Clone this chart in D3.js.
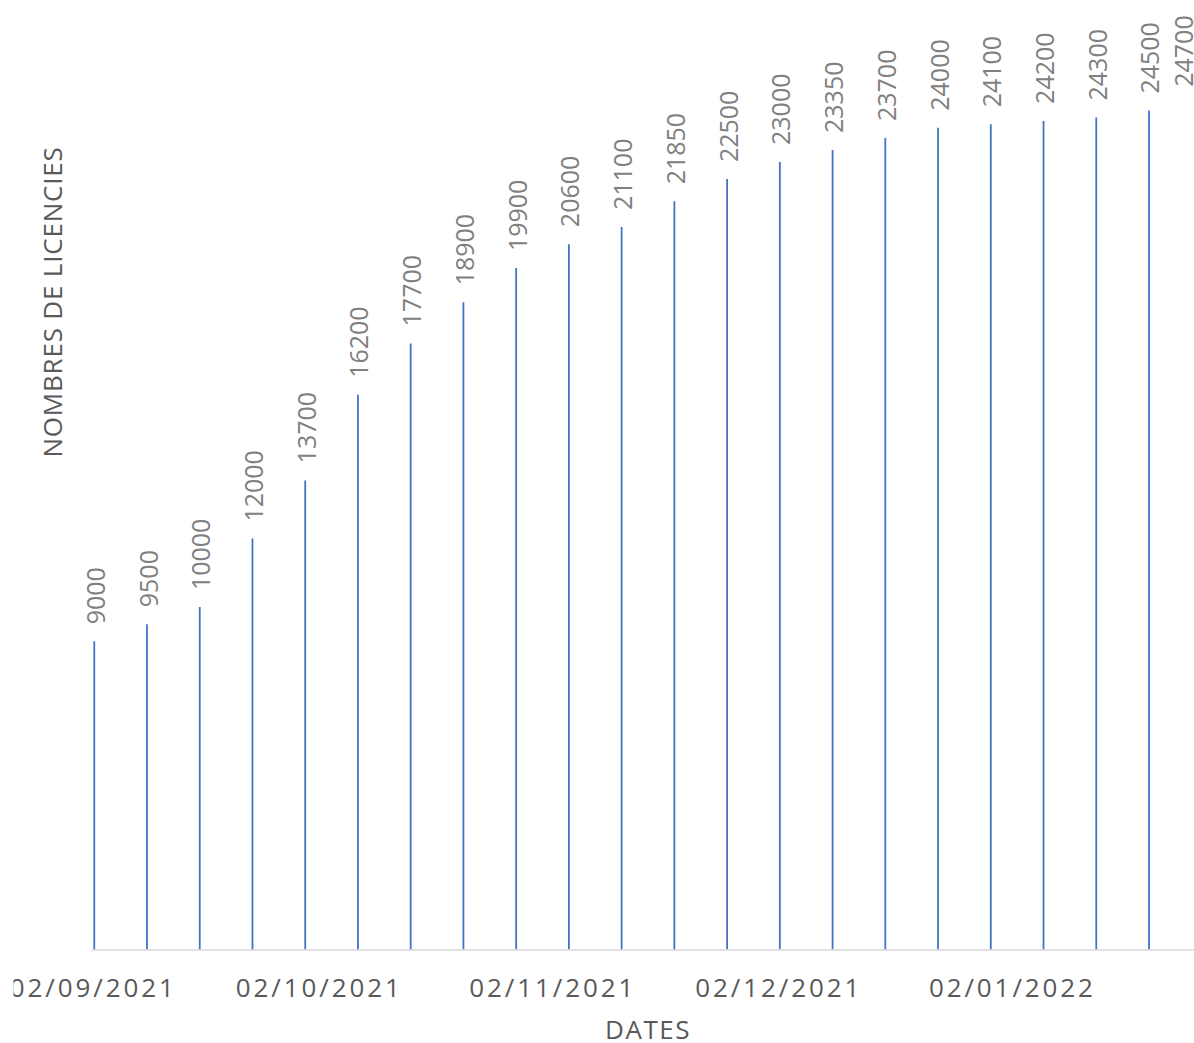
<!DOCTYPE html>
<html>
<head>
<meta charset="utf-8">
<script src="https://cdn.jsdelivr.net/npm/d3@7"></script>
<style>
  html, body { margin: 0; padding: 0; background: #ffffff; overflow: hidden; }
  svg { display: block; }
</style>
</head>
<body>
<svg id="chart" width="1194" height="1043"></svg>
<script>
// ---- data ----
const dates = [
  "2021-09-02","2021-09-09","2021-09-16","2021-09-23","2021-09-30",
  "2021-10-07","2021-10-14","2021-10-21","2021-10-28","2021-11-04",
  "2021-11-11","2021-11-18","2021-11-25","2021-12-02","2021-12-09",
  "2021-12-16","2021-12-23","2021-12-30","2022-01-06","2022-01-13",
  "2022-01-20","2022-01-27"
];
const licences = [
  9000, 9500, 10000, 12000, 13700,
  16200, 17700, 18900, 19900, 20600,
  21100, 21850, 22500, 23000, 23350,
  23700, 24000, 24100, 24200, 24300,
  24500, 24700
];
const tickDates = ["2021-09-02","2021-10-02","2021-11-02","2021-12-02","2022-01-02"];
const tickLabels = ["02/09/2021","02/10/2021","02/11/2021","02/12/2021","02/01/2022"];
const yTitle = "NOMBRES DE LICENCIES";
const xTitle = "DATES";

// ---- layout ----
const W = 1194, H = 1043;
const svg = d3.select("#chart");
const parse = s => { const [y,m,d] = s.split("-").map(Number); return new Date(Date.UTC(y, m-1, d)); };
const DAY = 86400000;
const dts = dates.map(parse);
const halfDay = DAY / 2;

const x = d3.scaleUtc()
  .domain([new Date(+dts[0] - halfDay), new Date(+dts[dts.length-1] + halfDay)])
  .range([90.5, 1205.5]);
const y = d3.scaleLinear().domain([0, 25000]).range([949.5, 93.5]);

const font = "'Open Sans', 'Noto Sans', sans-serif";

// clip for chart area
svg.append("defs").append("clipPath").attr("id", "area")
  .append("rect").attr("x", 13.5).attr("y", 0).attr("width", W - 13.5).attr("height", H);

const g = svg.append("g").attr("clip-path", "url(#area)");

// bars (thin columns)
g.append("g").selectAll("line").data(licences).join("line")
  .attr("x1", (d, i) => x(dts[i])).attr("x2", (d, i) => x(dts[i]))
  .attr("y1", y(0)).attr("y2", d => y(d))
  .attr("stroke", "#4472c4").attr("stroke-width", 1.8);

// x axis line
const xAxis = d3.axisBottom(x)
  .tickValues(tickDates.map(parse))
  .tickFormat((d, i) => tickLabels[i])
  .tickSize(0).tickPadding(0);
const ax = g.append("g").attr("transform", `translate(0,${y(0)})`).call(xAxis);
ax.select(".domain").attr("stroke", "#d9d9d9").attr("stroke-width", 1.6);
ax.selectAll(".tick text")
  .attr("font-family", font).attr("font-size", 26)
  .attr("fill", "#595959")
  .attr("letter-spacing", 2.9)
  .attr("dx", -1.5)
  .attr("y", 47).attr("dy", 0);

// data labels
const LS = 25;
g.append("g").selectAll("text").data(licences).join("text")
  .attr("transform", (d, i) => {
    const bx = Math.min(x(dts[i]), W - 12);
    return `translate(${bx + 10.5},${y(d) - 17}) rotate(-90)`;
  })
  .attr("text-anchor", "start")
  .attr("font-family", font).attr("font-size", LS)
  .attr("fill", "#808080")
  .text(d => d);

// axis titles
svg.append("text")
  .attr("transform", "translate(62,302) rotate(-90)")
  .attr("text-anchor", "middle")
  .attr("font-family", font).attr("font-size", 26)
  .attr("letter-spacing", 0.8)
  .attr("fill", "#595959")
  .text(yTitle);

svg.append("text")
  .attr("x", 648).attr("y", 1039)
  .attr("text-anchor", "middle")
  .attr("font-family", font).attr("font-size", 26)
  .attr("letter-spacing", 1.5)
  .attr("fill", "#595959")
  .text(xTitle);
</script>
</body>
</html>
